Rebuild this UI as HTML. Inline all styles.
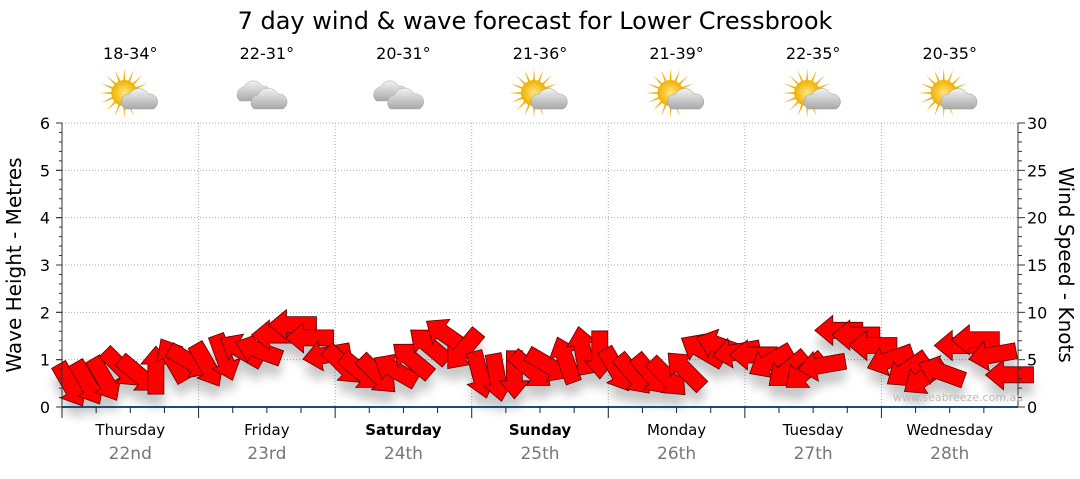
<!DOCTYPE html>
<html><head><meta charset="utf-8"><style>
body{margin:0;background:#fff;width:1080px;height:475px;overflow:hidden;font-family:"DejaVu Sans","Liberation Sans",sans-serif}
</style></head><body>
<svg id="c" width="1080" height="475" xmlns="http://www.w3.org/2000/svg">
<defs>
<radialGradient id="sun" cx="0.5" cy="0.5" r="0.5"><stop offset="0" stop-color="#ffe680"/><stop offset="1" stop-color="#f0b000"/></radialGradient>
<linearGradient id="cl" x1="0" y1="0" x2="0" y2="1"><stop offset="0" stop-color="#f2f2f2"/><stop offset="1" stop-color="#a8a8a8"/></linearGradient>
<filter id="sh" x="-50%" y="-50%" width="200%" height="200%"><feGaussianBlur stdDeviation="5"/></filter>
</defs>
<text x="535" y="29" text-anchor="middle" font-size="24" fill="#000">7 day wind &amp; wave forecast for Lower Cressbrook</text>
<g id="grid"></g><g id="icons"></g><g id="shadows" filter="url(#sh)" opacity="0.22"></g><g id="arrows"></g><g id="axes"></g>
<text x="893" y="401" font-size="11" fill="#bbb">www.seabreeze.com.au</text>
<text transform="translate(21,265) rotate(-90)" text-anchor="middle" font-size="20">Wave Height - Metres</text>
<text transform="translate(1059,265) rotate(90)" text-anchor="middle" font-size="20">Wind Speed - Knots</text>
</svg>
<script>
const days=["Thursday","Friday","Saturday","Sunday","Monday","Tuesday","Wednesday"];
const dates=["22nd","23rd","24th","25th","26th","27th","28th"];
const temps=["18-34°","22-31°","20-31°","21-36°","21-39°","22-35°","20-35°"];
const icons=["sun","cloud","cloud","sun","sun","sun","sun"];
const waveTicks=[0,1,2,3,4,5,6];
const windTicks=[0,5,10,15,20,25,30];
const windSpeed=[2.3,2.5,2.9,4.1,3.4,3.9,5.0,4.8, 4.4,5.2,6.0,6.0,7.6,8.7,7.3,5.5, 4.4,3.7,3.4,3.9,5.0,6.5,7.6,6.0, 3.4,3.1,3.4,3.9,4.4,5.0,6.0,5.5, 3.9,3.4,3.4,3.1,3.9,6.0,6.5,5.8, 5.5,4.8,3.9,3.7,4.4,8.1,7.6,6.5, 5.0,3.9,3.1,3.7,6.5,7.1,5.5,3.4];
const windDir=[60,60,60,45,40,-90,-120,30, 60,70,-150,-160,180,180,180,170, 45,40,45,-150,-140,-140,-145,130, 75,80,90,40,30,-110,-100,90, 60,50,50,45,-135,-150,-160,170, 180,150,140,140,170,180,180,180, 160,145,145,-160,180,180,170,180];
const NS="http://www.w3.org/2000/svg";
const L=62,R=1018,T=123,B=407,dw=(R-L)/7;
const yW=v=>B-(B-T)*v/6, yK=v=>B-(B-T)*v/30, xH=i=>L+(i+0.5)*(R-L)/windSpeed.length;
function mk(t,a,p){const e=document.createElementNS(NS,t);for(const k in a)e.setAttribute(k,a[k]);(p||document.getElementById('c')).appendChild(e);return e;}
const grid=document.getElementById('grid'),axes=document.getElementById('axes');
waveTicks.forEach(v=>{if(v>0){const g=mk('line',{x1:L,x2:R,y1:yW(v),y2:yW(v),stroke:'#aaa','stroke-dasharray':'1,2'},grid);}
 const t=mk('text',{x:50,y:yW(v)+6,'text-anchor':'end','font-size':16},axes);t.textContent=v;
 
 mk('line',{x1:L-6,x2:L,y1:yW(v),y2:yW(v),stroke:'#333'},axes);});
for(let m=0;m<=30;m++){const y=B-(B-T)*m/30;mk('line',{x1:L-(m%5?3:6),x2:L,y1:y,y2:y,stroke:'#333'},axes);mk('line',{x1:R,x2:R+(m%5?4:7),y1:y,y2:y,stroke:'#333'},axes);}
windTicks.forEach(v=>{const t=mk('text',{x:1027,y:yK(v)+6,'font-size':16},axes);t.textContent=v;
 });
mk('line',{x1:L,x2:L,y1:T,y2:B,stroke:'#333'},axes);mk('line',{x1:R,x2:R,y1:T,y2:B,stroke:'#333'},axes);
mk('line',{x1:L,x2:R,y1:B,y2:B,stroke:'#1a4d7a','stroke-width':2},axes);
for(let d=0;d<7;d++){const x0=L+d*dw,cx=x0+dw/2;
 if(d>0){const g=mk('line',{x1:x0,x2:x0,y1:T,y2:B,stroke:'#aaa','stroke-dasharray':'1,2'},grid);}
 mk('line',{x1:x0,x2:x0,y1:B,y2:B+11,stroke:'#222'},axes);
 for(let k=1;k<4;k++)mk('line',{x1:x0+k*dw/4,x2:x0+k*dw/4,y1:B,y2:B+6,stroke:'#222'},axes);
 const a=mk('text',{x:cx,y:435,'text-anchor':'middle','font-size':15,'font-weight':(d==2||d==3)?'bold':'normal'},axes);a.textContent=days[d];
 
 const b=mk('text',{x:cx,y:459,'text-anchor':'middle','font-size':17,fill:'#777'},axes);b.textContent=dates[d];
 
 const t=mk('text',{x:cx,y:59,'text-anchor':'middle','font-size':16},document.getElementById('icons'));t.textContent=temps[d];
 
 const g=mk('g',{transform:`translate(${cx},95)`},document.getElementById('icons'));
 
 if(icons[d]=='sun'){for(let r=0;r<16;r++){const an=r*22.5;mk('polygon',{points:'-2,0 2,0 0,-25',fill:'#f0b000',transform:`translate(-6,-2) rotate(${an})`},g);}
  mk('circle',{cx:-6,cy:-2,r:13,fill:'url(#sun)'},g);
  mk('path',{d:'M-5,14 a8,8 0 0 1 4,-15 a11,11 0 0 1 19,0 a8,8 0 0 1 5,15 z',fill:'url(#cl)',stroke:'#999','stroke-width':0.5},g);}
 else{mk('path',{d:'M-27,6 a8,8 0 0 1 4,-14 a10,10 0 0 1 18,-1 a8,8 0 0 1 5,15 z',fill:'url(#cl)',stroke:'#aaa','stroke-width':0.5},g);
  mk('path',{d:'M-13,14 a8,8 0 0 1 4,-14 a11,11 0 0 1 20,-1 a8,8 0 0 1 5,15 z',fill:'url(#cl)',stroke:'#aaa','stroke-width':0.5},g);}}
const P='24,0 6,-15 6,-8 -24,-8 -24,8 6,8 6,15';
windSpeed.forEach((s,i)=>{const x=xH(i),y=yK(s);
 mk('polygon',{points:P,fill:'#000',transform:`translate(${x},${y+12}) rotate(${windDir[i]})`},document.getElementById('shadows'));
 const a=mk('polygon',{points:P,fill:'#ff0000',stroke:'#5a0000','stroke-width':0.8,transform:`translate(${x},${y}) rotate(${windDir[i]})`},document.getElementById('arrows'));
 
 });
</script>
</body></html>
